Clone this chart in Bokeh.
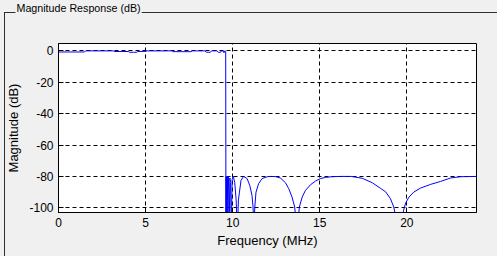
from bokeh.plotting import figure
from bokeh.models import (Range1d, SingleIntervalTicker, NumeralTickFormatter, LinearAxis,
                          FixedTicker, CustomJSTickFormatter)
from bokeh.embed import file_html
from bokeh.resources import INLINE

# ---- data (frequency in MHz, magnitude in dB) ----
freq_mhz = [0.0, 0.5, 1.0, 1.5, 1.55, 2.0, 2.5, 3.0, 3.15, 3.2, 3.6, 4.0, 4.1, 4.3, 4.5, 4.55,
            5.0, 5.1, 5.6, 6.0, 6.5, 6.55, 7.0, 7.6, 7.7, 8.0, 8.4, 8.5, 8.6, 8.7, 8.8, 9.0,
            9.1, 9.2, 9.3, 9.35, 9.45, 9.5, 9.55, 9.6,
            9.615, 9.625, 9.64, 9.66, 9.68, 9.70, 9.72, 9.75, 9.78, 9.80, 9.84, 9.88, 9.92,
            9.97, 10.04, 10.12, 10.20, 10.27, 10.33, 10.39, 10.48, 10.63, 10.83, 10.98, 11.11,
            11.17, 11.22, 11.27, 11.34, 11.49, 11.69, 11.98, 12.2, 12.45, 12.74, 13.03, 13.22,
            13.41, 13.56, 13.70, 13.83, 13.99, 14.18, 14.47, 14.75, 15.04, 15.33, 15.71, 16.2,
            16.8, 17.44, 18.01, 18.49, 18.78, 19.06, 19.25, 19.40, 19.55, 19.72, 19.79, 19.93,
            20.12, 20.40, 20.79, 21.36, 21.94, 22.51, 23.09, 24.0]
mag_db = [-0.7, -0.7, -0.7, -0.7, 0.0, 0.0, 0.0, 0.0, 0.0, -0.4, -0.4, -0.4, -0.9, -0.9, -0.9, -0.4,
          -0.3, 0.0, 0.0, 0.0, 0.0, -0.5, -0.5, -0.5, 0.0, 0.0, 0.0, -0.8, -0.9, -0.9, 0.0, 0.0,
          0.0, -1.0, -0.9, 0.0, 0.0, -1.2, 0.0, -0.3,
          -115, -80, -115, -80, -93, -80, -115, -80, -88, -115, -81, -84, -115,
          -82, -80, -84, -95, -115, -95, -90, -82.5, -80, -81.4, -85.7, -92,
          -99.5, -115, -99.5, -90, -84.6, -81.4, -80.2, -80, -80.1, -81, -84, -87.8,
          -93.2, -99.5, -115, -99.5, -93.2, -88.9, -85.3, -83, -81.4, -80.6, -80.2, -80,
          -80, -81.2, -84, -87.6, -89.8, -94.2, -99.5, -108, -115, -108, -102.7, -97,
          -93.2, -90, -87.4, -85.1, -83.2, -81, -80.2, -80]

x_ticks_step = 5
y_ticks_step = 20
panel_title = "Magnitude Response (dB)"
x_label = "Frequency (MHz)"
y_label = "Magnitude (dB)"

W, H = 497, 256
FL, FR, FT, FB = 58, 21, 43, 44   # frame borders

# etched panel border drawn as CSS background behind a transparent border area
panel_css = {
    "background-color": "#f0f0f0",
    "background-image": "linear-gradient(#303030, #303030), linear-gradient(#303030, #303030)",
    "background-size": "1px 250px, 500px 1px",
    "background-position": "4px 12px, 4px 12px",
    "background-repeat": "no-repeat",
}

p = figure(width=W, height=H, output_backend="svg", toolbar_location=None,
           x_range=Range1d(0, 24), y_range=Range1d(-103, 4.7),
           min_border_left=FL, min_border_right=FR, min_border_top=FT, min_border_bottom=FB,
           styles=panel_css)
p.background_fill_color = "white"
p.border_fill_color = "#f0f0f0"
p.border_fill_alpha = 0
p.outline_line_color = "black"
p.outline_line_width = 1
p.outline_line_alpha = 1

p.line(freq_mhz, mag_db, line_color="#0000ff", line_width=1)

font = "Liberation Sans"
p.xaxis.ticker = SingleIntervalTicker(interval=x_ticks_step, num_minor_ticks=0)
p.yaxis.ticker = SingleIntervalTicker(interval=y_ticks_step, num_minor_ticks=0)
p.xaxis.formatter = NumeralTickFormatter(format="0")
p.yaxis.formatter = NumeralTickFormatter(format="0")
for ax in (p.xaxis[0], p.yaxis[0]):
    ax.major_tick_in = 5
    ax.major_tick_out = 0
    ax.minor_tick_in = 0
    ax.minor_tick_out = 0
    ax.axis_line_color = "black"
    ax.major_tick_line_color = "black"
    ax.major_label_text_font = font
    ax.major_label_text_font_size = "12px"
    ax.major_label_text_color = "black"
    ax.axis_label_text_font = font
    ax.axis_label_text_font_size = "13px"
    ax.axis_label_text_font_style = "normal"
    ax.axis_label_text_color = "black"
p.xaxis.axis_label = x_label
p.yaxis.axis_label = y_label
p.xaxis.major_label_standoff = 5
p.xaxis.axis_label_standoff = 3
p.yaxis.major_label_standoff = 5
p.yaxis.axis_label_standoff = 5

for g in (p.xgrid[0], p.ygrid[0]):
    g.grid_line_color = "black"
    g.grid_line_dash = "4 3"
    g.grid_line_width = 1
    g.grid_line_alpha = 1

# invisible spacer between the frame and the panel title (hidden tick, empty label)
spacer = LinearAxis(ticker=FixedTicker(ticks=[0]), major_tick_out=27, major_tick_in=0,
                    minor_tick_out=0, minor_tick_in=0, major_label_standoff=0,
                    formatter=CustomJSTickFormatter(code="return ''"),
                    axis_line_color=None, major_tick_line_color=None,
                    minor_tick_line_color=None)
p.add_layout(spacer, "above")

# panel title sitting on the border line
p.title.text = panel_title
p.title.align = "left"
p.title.vertical_align = "top"
p.title.offset = 15 - FL
p.title.standoff = 0
p.title.text_font = font
p.title.text_font_size = "10.7px"
p.title.text_font_style = "normal"
p.title.text_color = "black"
p.title.background_fill_color = "#f0f0f0"
p.title.background_fill_alpha = 1
p.title.padding = 1

open("out.html", "w").write(file_html(p, INLINE))
